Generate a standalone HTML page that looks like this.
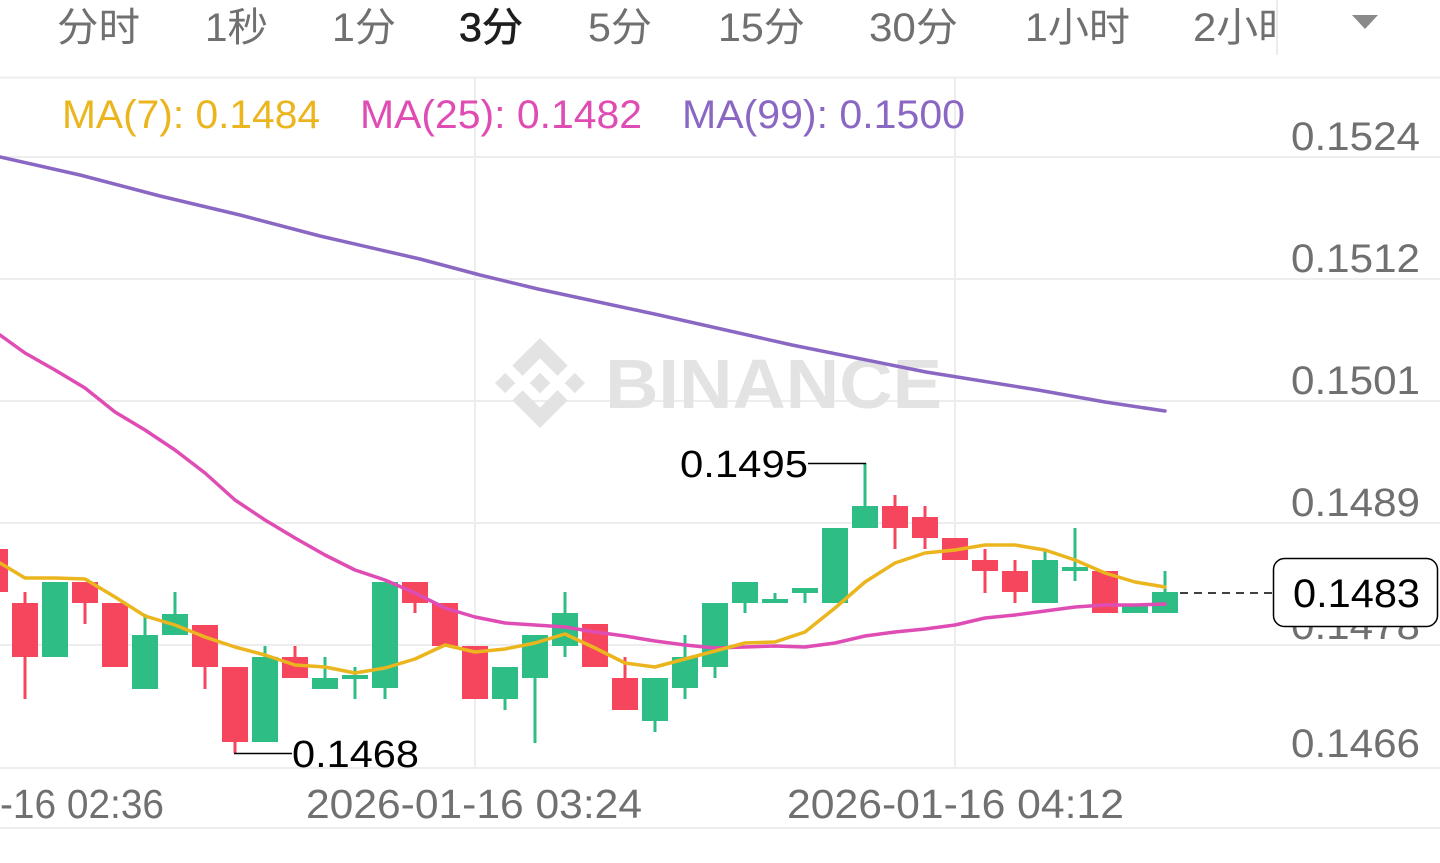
<!DOCTYPE html>
<html><head><meta charset="utf-8"><style>
html,body{margin:0;padding:0;background:#fff;width:1440px;height:863px;overflow:hidden}
svg{display:block}
text{font-family:"Liberation Sans","Noto Sans CJK SC",sans-serif}
</style></head><body>
<svg width="1440" height="863" viewBox="0 0 1440 863" xmlns="http://www.w3.org/2000/svg">
<defs><clipPath id="tabclip"><rect x="0" y="0" width="1277" height="77"/></clipPath></defs>
<rect width="1440" height="863" fill="#fff"/>
<!-- tab bar -->
<g clip-path="url(#tabclip)" font-size="40" fill="#707070">
<text x="57" y="41" textLength="83" lengthAdjust="spacingAndGlyphs">分时</text>
<text x="205" y="41" textLength="63" lengthAdjust="spacingAndGlyphs">1秒</text>
<text x="332" y="41" textLength="64" lengthAdjust="spacingAndGlyphs">1分</text>
<text x="459" y="41" textLength="64" lengthAdjust="spacingAndGlyphs" fill="#1e1e1e" stroke="#1e1e1e" stroke-width="0.7">3分</text>
<text x="588" y="41" textLength="64" lengthAdjust="spacingAndGlyphs">5分</text>
<text x="718" y="41" textLength="87" lengthAdjust="spacingAndGlyphs">15分</text>
<text x="869" y="41" textLength="89" lengthAdjust="spacingAndGlyphs">30分</text>
<text x="1025" y="41" textLength="105" lengthAdjust="spacingAndGlyphs">1小时</text>
<text x="1193" y="41" textLength="107" lengthAdjust="spacingAndGlyphs">2小时</text>
</g>
<line x1="1277" y1="0" x2="1277" y2="55" stroke="#e6e6e6" stroke-width="1.5"/>
<polygon points="1352,15 1378,15 1365,29" fill="#8a8a8a"/>
<!-- grid -->
<g stroke="#ededed" stroke-width="2">
<line x1="0" y1="77.5" x2="1440" y2="77.5"/>
<line x1="0" y1="157" x2="1440" y2="157"/>
<line x1="0" y1="279" x2="1440" y2="279"/>
<line x1="0" y1="401" x2="1440" y2="401"/>
<line x1="0" y1="523" x2="1440" y2="523"/>
<line x1="0" y1="645" x2="1440" y2="645"/>
<line x1="0" y1="768" x2="1440" y2="768"/>
<line x1="0" y1="828" x2="1440" y2="828"/>
<line x1="475" y1="78" x2="475" y2="768"/>
<line x1="955" y1="78" x2="955" y2="768"/>
</g>
<!-- watermark -->
<g fill="#e3e3e3" transform="translate(495,338) scale(0.711)">
<polygon points="38.73,53.2 63.31,28.62 87.9,53.21 102.2,38.91 63.31,0 24.42,38.9"/>
<polygon points="0,63.31 14.3,49.01 28.6,63.31 14.3,77.61"/>
<polygon points="38.73,73.41 63.31,97.99 87.9,73.4 102.2,87.69 63.31,126.61 24.42,87.71"/>
<polygon points="97.99,63.31 112.3,49 126.6,63.3 112.3,77.6"/>
<polygon points="77.83,63.3 63.31,48.78 48.79,63.29 63.31,77.82"/>
</g>
<text x="605" y="408" font-size="70" font-weight="bold" fill="#e3e3e3" textLength="337" lengthAdjust="spacingAndGlyphs">BINANCE</text>
<!-- MA legend -->
<g font-size="40">
<text x="62" y="128" fill="#EBB51D" textLength="258" lengthAdjust="spacingAndGlyphs">MA(7): 0.1484</text>
<text x="360" y="128" fill="#DF4DB4" textLength="282" lengthAdjust="spacingAndGlyphs">MA(25): 0.1482</text>
<text x="682" y="128" fill="#8B67C4" textLength="283" lengthAdjust="spacingAndGlyphs">MA(99): 0.1500</text>
</g>
<!-- y axis labels -->
<g font-size="40" fill="#707070">
<text x="1291" y="150" textLength="129" lengthAdjust="spacingAndGlyphs">0.1524</text>
<text x="1291" y="272" textLength="129" lengthAdjust="spacingAndGlyphs">0.1512</text>
<text x="1291" y="394" textLength="129" lengthAdjust="spacingAndGlyphs">0.1501</text>
<text x="1291" y="516" textLength="129" lengthAdjust="spacingAndGlyphs">0.1489</text>
<text x="1291" y="639" textLength="129" lengthAdjust="spacingAndGlyphs">0.1478</text>
<text x="1291" y="757" textLength="129" lengthAdjust="spacingAndGlyphs">0.1466</text>
</g>
<!-- x axis labels -->
<g font-size="41" fill="#707070">
<text x="0" y="818" textLength="164" lengthAdjust="spacingAndGlyphs">-16 02:36</text>
<text x="306" y="818" textLength="336" lengthAdjust="spacingAndGlyphs">2026-01-16 03:24</text>
<text x="787" y="818" textLength="337" lengthAdjust="spacingAndGlyphs">2026-01-16 04:12</text>
</g>
<!-- red candles -->
<g fill="#F6465D">
<rect x="-18" y="549" width="26" height="43"/>
<rect x="12" y="603" width="26" height="54"/><rect x="23.5" y="592" width="3" height="107"/>
<rect x="72" y="582" width="26" height="21"/><rect x="83.5" y="582" width="3" height="42"/>
<rect x="102" y="603" width="26" height="64"/>
<rect x="192" y="625" width="26" height="42"/><rect x="203.5" y="625" width="3" height="64"/>
<rect x="222" y="667" width="26" height="75"/><rect x="233.5" y="667" width="3" height="86"/>
<rect x="282" y="657" width="26" height="21"/><rect x="293.5" y="646" width="3" height="32"/>
<rect x="402" y="582" width="26" height="21"/><rect x="413.5" y="582" width="3" height="31"/>
<rect x="432" y="603" width="26" height="43"/>
<rect x="462" y="646" width="26" height="53"/>
<rect x="582" y="624" width="26" height="43"/>
<rect x="612" y="678" width="26" height="32"/><rect x="623.5" y="657" width="3" height="53"/>
<rect x="882" y="506" width="26" height="22"/><rect x="893.5" y="495" width="3" height="54"/>
<rect x="912" y="517" width="26" height="21"/><rect x="923.5" y="506" width="3" height="43"/>
<rect x="942" y="538" width="26" height="22"/>
<rect x="972" y="560" width="26" height="11"/><rect x="983.5" y="549" width="3" height="44"/>
<rect x="1002" y="571" width="26" height="21"/><rect x="1013.5" y="560" width="3" height="43"/>
<rect x="1092" y="571" width="26" height="42"/>
</g>
<!-- green candles -->
<g fill="#2EBD85">
<rect x="42" y="582" width="26" height="75"/>
<rect x="132" y="635" width="26" height="54"/><rect x="143.5" y="614" width="3" height="75"/>
<rect x="162" y="614" width="26" height="21"/><rect x="173.5" y="592" width="3" height="43"/>
<rect x="252" y="657" width="26" height="85"/><rect x="263.5" y="646" width="3" height="96"/>
<rect x="312" y="678" width="26" height="11"/><rect x="323.5" y="657" width="3" height="32"/>
<rect x="342" y="675" width="26" height="4"/><rect x="353.5" y="667" width="3" height="32"/>
<rect x="372" y="582" width="26" height="106"/><rect x="383.5" y="582" width="3" height="117"/>
<rect x="492" y="667" width="26" height="32"/><rect x="503.5" y="667" width="3" height="43"/>
<rect x="522" y="635" width="26" height="43"/><rect x="533.5" y="635" width="3" height="108"/>
<rect x="552" y="613" width="26" height="33"/><rect x="563.5" y="592" width="3" height="65"/>
<rect x="642" y="678" width="26" height="43"/><rect x="653.5" y="678" width="3" height="54"/>
<rect x="672" y="657" width="26" height="31"/><rect x="683.5" y="635" width="3" height="64"/>
<rect x="702" y="603" width="26" height="64"/><rect x="713.5" y="603" width="3" height="75"/>
<rect x="732" y="582" width="26" height="21"/><rect x="743.5" y="582" width="3" height="31"/>
<rect x="762" y="599" width="26" height="4"/><rect x="773.5" y="593" width="3" height="10"/>
<rect x="792" y="588" width="26" height="5"/><rect x="803.5" y="588" width="3" height="15"/>
<rect x="822" y="528" width="26" height="75"/>
<rect x="852" y="506" width="26" height="22"/><rect x="863.5" y="463" width="3" height="65"/>
<rect x="1032" y="560" width="26" height="43"/><rect x="1043.5" y="549" width="3" height="54"/>
<rect x="1062" y="567" width="26" height="4"/><rect x="1073.5" y="528" width="3" height="53"/>
<rect x="1122" y="605" width="26" height="8"/>
<rect x="1152" y="592" width="26" height="21"/><rect x="1163.5" y="571" width="3" height="42"/>
</g>
<!-- MA lines -->
<g fill="none" stroke-width="3.5" stroke-linejoin="round" stroke-linecap="round">
<polyline stroke="#8B67C4" points="0,157 80,175 160,196 240,215 320,236 420,259 480,275 538,289 659,315 792,345 926,372 1038,390 1105,402 1165,411"/>
<polyline stroke="#DF4DB4" points="0,335 25,353 55,370 85,388 115,412 145,430 175,450 205,473 235,500 265,520 295,538 325,555 355,570 385,580 415,593 445,608 475,617 505,623 535,625 565,627 595,632 625,636 655,641 685,645 715,648 745,647 775,646 805,647 835,643 865,636 895,632 925,629 955,625 985,618 1015,615 1045,611 1075,607 1105,605 1135,605 1165,604"/>
<polyline stroke="#EBB51D" points="0,563 25,578 55,578 85,579 115,597 145,616 175,625 205,637 235,647 265,655 295,665 325,667 355,673 385,668 415,659 445,645 475,652 505,649 535,643 565,634 595,648 625,663 655,667 685,659 715,651 745,643 775,642 805,632 835,608 865,582 895,563 925,553 955,550 985,545 1015,545 1045,550 1075,560 1105,573 1135,582 1165,587"/>
</g>
<!-- high / low annotations -->
<line x1="808" y1="463.5" x2="866" y2="463.5" stroke="#000" stroke-width="1.5"/>
<text x="680" y="477" font-size="38" fill="#000" textLength="128" lengthAdjust="spacingAndGlyphs">0.1495</text>
<line x1="234" y1="753.5" x2="292" y2="753.5" stroke="#000" stroke-width="1.5"/>
<text x="292" y="767" font-size="38" fill="#000" textLength="127" lengthAdjust="spacingAndGlyphs">0.1468</text>
<!-- current price -->
<line x1="1180" y1="593" x2="1273" y2="593" stroke="#000" stroke-width="1.5" stroke-dasharray="8 6"/>
<rect x="1273.5" y="558.5" width="164" height="68" rx="11" ry="11" fill="#fff" stroke="#000" stroke-width="1.5"/>
<text x="1293" y="607" font-size="40" fill="#000" textLength="127" lengthAdjust="spacingAndGlyphs">0.1483</text>
</svg>
</body></html>
